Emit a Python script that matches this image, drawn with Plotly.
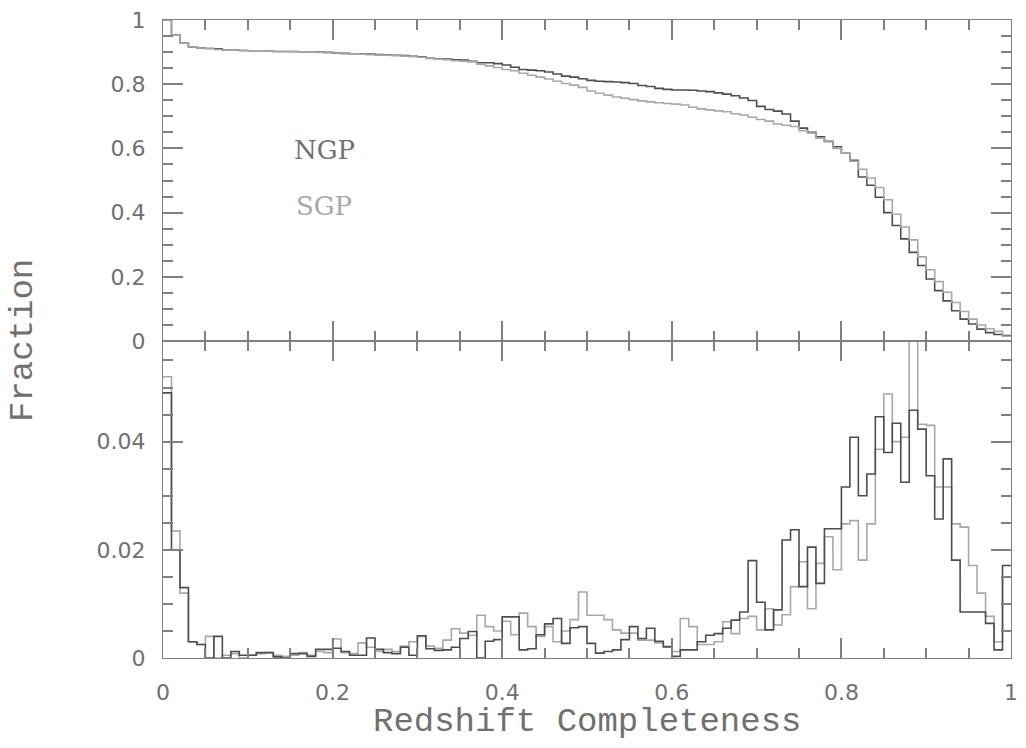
import numpy as np
import plotly.graph_objects as go

# ---------------- data ----------------
bin_edges = [round(i * 0.01, 2) for i in range(101)]

ngp_hist = [0.049, 0.020, 0.013, 0.003, 0.0025, 0.0, 0.004, 0.0, 0.0012, 0.0005,
            0.0005, 0.001, 0.001, 0.0002, 0.0, 0.0008, 0.0008, 0.0003, 0.0016, 0.0016,
            0.0018, 0.0012, 0.0005, 0.0005, 0.0037, 0.0016, 0.0010, 0.0008, 0.0020, 0.0005,
            0.0041, 0.0017, 0.0014, 0.0015, 0.0020, 0.0036, 0.0049, 0.0, 0.0031, 0.0034,
            0.0076, 0.0076, 0.0015, 0.0017, 0.0043, 0.0063, 0.0073, 0.0027, 0.0056, 0.0058,
            0.0027, 0.0009, 0.0012, 0.0015, 0.0034, 0.0058, 0.0036, 0.0055, 0.0031, 0.0021,
            0.0003, 0.0015, 0.0015, 0.0030, 0.0042, 0.0045, 0.0055, 0.0070, 0.0085, 0.0180,
            0.0103, 0.0052, 0.0089, 0.0218, 0.0237, 0.0132, 0.0205, 0.0138, 0.0239, 0.0239,
            0.0316, 0.0408, 0.0300, 0.0340, 0.0446, 0.0380, 0.0434, 0.0325, 0.0458, 0.0423,
            0.0337, 0.0257, 0.0368, 0.0181, 0.0085, 0.0085, 0.0085, 0.0064, 0.0015, 0.0171]

sgp_hist = [0.052, 0.0235, 0.012, 0.003, 0.0025, 0.004, 0.0, 0.0005, 0.0008, 0.0,
            0.0005, 0.0008, 0.001, 0.0005, 0.0003, 0.0005, 0.0010, 0.0005, 0.0012, 0.0010,
            0.0035, 0.0010, 0.0008, 0.0028, 0.0020, 0.0012, 0.0016, 0.0012, 0.0022, 0.0030,
            0.0040, 0.0022, 0.0018, 0.0033, 0.0054, 0.0046, 0.0042, 0.0079, 0.0058, 0.0050,
            0.0068, 0.0043, 0.0083, 0.0058, 0.0040, 0.0058, 0.0030, 0.0050, 0.0071, 0.0122,
            0.0079, 0.0079, 0.0071, 0.0052, 0.0046, 0.0046, 0.0033, 0.0033, 0.0028, 0.0020,
            0.0012, 0.0073, 0.0058, 0.0025, 0.0025, 0.0030, 0.0067, 0.0045, 0.0073, 0.0077,
            0.0052, 0.0091, 0.0061, 0.0080, 0.0132, 0.0178, 0.0091, 0.0175, 0.0224, 0.0163,
            0.0248, 0.0254, 0.0181, 0.0248, 0.0386, 0.0488, 0.0400, 0.0408, 0.0650, 0.0432,
            0.0430, 0.0316, 0.0316, 0.0248, 0.0242, 0.0171, 0.0120, 0.0077, 0.0030, 0.0150]

ngp_cum = [1.000, 0.953, 0.928, 0.916, 0.913, 0.911, 0.910, 0.906, 0.906, 0.905,
           0.904, 0.904, 0.903, 0.902, 0.902, 0.902, 0.901, 0.900, 0.900, 0.899,
           0.897, 0.896, 0.895, 0.895, 0.894, 0.892, 0.891, 0.890, 0.889, 0.887,
           0.885, 0.881, 0.879, 0.878, 0.876, 0.875, 0.871, 0.867, 0.867, 0.864,
           0.860, 0.853, 0.846, 0.844, 0.842, 0.838, 0.832, 0.825, 0.822, 0.817,
           0.812, 0.809, 0.808, 0.807, 0.805, 0.802, 0.796, 0.793, 0.787, 0.784,
           0.782, 0.782, 0.781, 0.779, 0.777, 0.773, 0.769, 0.764, 0.757, 0.749,
           0.731, 0.721, 0.716, 0.707, 0.685, 0.663, 0.650, 0.636, 0.622, 0.605,
           0.585, 0.563, 0.511, 0.485, 0.448, 0.400, 0.360, 0.318, 0.276, 0.235,
           0.193, 0.157, 0.125, 0.094, 0.068, 0.053, 0.037, 0.026, 0.020, 0.017]

sgp_cum = [1.000, 0.953, 0.928, 0.916, 0.913, 0.911, 0.908, 0.906, 0.906, 0.905,
           0.904, 0.904, 0.903, 0.902, 0.902, 0.901, 0.901, 0.900, 0.899, 0.898,
           0.897, 0.895, 0.895, 0.894, 0.892, 0.891, 0.890, 0.889, 0.888, 0.886,
           0.884, 0.880, 0.878, 0.876, 0.873, 0.872, 0.870, 0.862, 0.857, 0.852,
           0.846, 0.842, 0.834, 0.828, 0.822, 0.816, 0.809, 0.802, 0.797, 0.790,
           0.779, 0.772, 0.766, 0.760, 0.756, 0.752, 0.748, 0.745, 0.742, 0.740,
           0.738, 0.735, 0.728, 0.723, 0.720, 0.717, 0.714, 0.708, 0.704, 0.697,
           0.690, 0.685, 0.676, 0.672, 0.668, 0.655, 0.648, 0.632, 0.622, 0.600,
           0.585, 0.560, 0.535, 0.508, 0.478, 0.440, 0.395, 0.355, 0.315, 0.262,
           0.222, 0.185, 0.152, 0.120, 0.092, 0.068, 0.050, 0.038, 0.030, 0.015]

x_ticks = [0, 0.2, 0.4, 0.6, 0.8, 1]
x_tick_text = ["0", "0.2", "0.4", "0.6", "0.8", "1"]
top_ticks = [0, 0.2, 0.4, 0.6, 0.8, 1]
top_tick_text = ["0", "0.2", "0.4", "0.6", "0.8", "1"]
bot_ticks = [0, 0.02, 0.04]
bot_tick_text = ["0", "0.02", "0.04"]

# ---------------- styling ----------------
NGP_COLOR = "#4d4d4d"
SGP_COLOR = "#a8a8a8"
AXIS_COLOR = "#808080"
TEXT_COLOR = "#707070"
TICK_FONT = dict(family="DejaVu Sans", size=22, color=TEXT_COLOR)

def steps(vals):
    return list(vals) + [vals[-1]]

fig = go.Figure()
fig.add_trace(go.Scatter(x=bin_edges, y=steps(ngp_cum), mode="lines", line_shape="hv",
                         line=dict(color=NGP_COLOR, width=1.6), xaxis="x2", yaxis="y2"))
fig.add_trace(go.Scatter(x=bin_edges, y=steps(sgp_cum), mode="lines", line_shape="hv",
                         line=dict(color=SGP_COLOR, width=1.6), xaxis="x2", yaxis="y2"))
fig.add_trace(go.Scatter(x=bin_edges, y=steps(sgp_hist), mode="lines", line_shape="hv",
                         line=dict(color=SGP_COLOR, width=1.6), xaxis="x", yaxis="y"))
fig.add_trace(go.Scatter(x=bin_edges, y=steps(ngp_hist), mode="lines", line_shape="hv",
                         line=dict(color=NGP_COLOR, width=1.6), xaxis="x", yaxis="y"))

split = (658 - 340) / 640.0

common_x = dict(range=[0, 1], showline=True, linecolor=AXIS_COLOR, linewidth=1.4,
                mirror="ticks", ticks="inside", ticklen=20, tickwidth=1.5, tickcolor=AXIS_COLOR,
                tickvals=x_ticks, showgrid=False, zeroline=False,
                minor=dict(dtick=0.05, tick0=0, ticks="inside", ticklen=10, tickwidth=1.5,
                           tickcolor=AXIS_COLOR, showgrid=False))
common_y = dict(showline=True, linecolor=AXIS_COLOR, linewidth=1.4,
                mirror="ticks", ticks="inside", ticklen=20, tickwidth=1.5, tickcolor=AXIS_COLOR,
                showgrid=False, zeroline=False, tickfont=TICK_FONT, ticklabelstandoff=12)

fig.update_layout(
    width=1026, height=748,
    margin=dict(l=163, r=8, t=18, b=90),
    paper_bgcolor="white", plot_bgcolor="rgba(0,0,0,0)",
    showlegend=False,
    xaxis=dict(domain=[0, 1], anchor="y", ticktext=x_tick_text, tickfont=TICK_FONT,
               ticklabelstandoff=14, **common_x),
    xaxis2=dict(domain=[0, 1], anchor="y2", matches="x", showticklabels=False, **common_x),
    yaxis=dict(domain=[0, split], anchor="x", range=[0, 0.0586], tickvals=bot_ticks,
               ticktext=bot_tick_text,
               minor=dict(dtick=0.005, tick0=0, ticks="inside", ticklen=10, tickwidth=1.5,
                          tickcolor=AXIS_COLOR, showgrid=False),
               **common_y),
    yaxis2=dict(domain=[split, 1], anchor="x2", range=[0, 1], tickvals=top_ticks,
                ticktext=top_tick_text,
                minor=dict(dtick=0.05, tick0=0, ticks="inside", ticklen=10, tickwidth=1.5,
                           tickcolor=AXIS_COLOR, showgrid=False),
                **common_y),
    annotations=[
        dict(text="Fraction", xref="paper", yref="paper", x=-0.165, y=0.497,
             textangle=-90, showarrow=False, xanchor="center", yanchor="middle",
             font=dict(family="Liberation Mono", size=34, color=TEXT_COLOR)),
        dict(text="Redshift Completeness", xref="paper", yref="paper", x=0.5, y=-0.1,
             showarrow=False, xanchor="center", yanchor="middle",
             font=dict(family="Liberation Mono", size=34, color=TEXT_COLOR)),
        dict(text="NGP", xref="x2", yref="y2", x=0.19, y=0.596, showarrow=False,
             xanchor="center", yanchor="middle",
             font=dict(family="DejaVu Serif", size=26, color="#707070")),
        dict(text="SGP", xref="x2", yref="y2", x=0.19, y=0.42, showarrow=False,
             xanchor="center", yanchor="middle",
             font=dict(family="DejaVu Serif", size=26, color="#a8a8a8")),
    ],
)

fig.write_html("out.html")
